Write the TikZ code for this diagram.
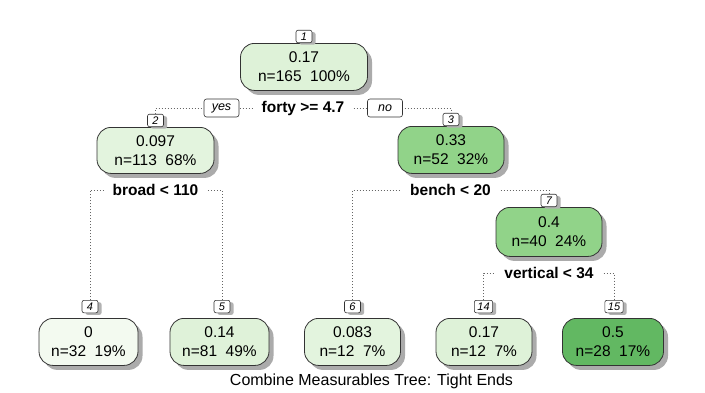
\documentclass[tikz,border=0pt]{standalone}
\usepackage{fontspec}
\setmainfont{Liberation Sans}
\usetikzlibrary{shadows}
\definecolor{cA}{HTML}{DEF2D8}
\definecolor{cB}{HTML}{E3F4DE}
\definecolor{cC}{HTML}{91D389}
\definecolor{cD}{HTML}{F3FAF0}
\definecolor{cE}{HTML}{DFF2D9}
\definecolor{cF}{HTML}{62B862}
\tikzset{
  treebox/.style={draw=black!80, line width=0.8pt, rounded corners=14pt,
    minimum height=47pt, align=center, inner sep=0pt, anchor=north,
    font=\fontsize{15.5}{19}\selectfont,
    drop shadow={shadow xshift=4.5pt, shadow yshift=-4.5pt, fill=black!33, opacity=1}},
  numbox/.style={draw=black!80, fill=white, line width=0.6pt, rounded corners=2pt,
    minimum width=16pt, minimum height=12.5pt, inner xsep=3pt, inner ysep=0pt,
    font=\fontsize{11}{12}\selectfont\itshape,
    drop shadow={shadow xshift=3.5pt, shadow yshift=-2pt, fill=black!30, opacity=1}},
  yesno/.style={draw=black!80, fill=white, line width=0.6pt, rounded corners=2.5pt,
    minimum width=35pt, minimum height=18pt, inner sep=0pt,
    font=\fontsize{12.5}{13}\selectfont\itshape},
  splitlab/.style={fill=white, inner xsep=9pt, inner ysep=1pt,
    font=\fontsize{15.5}{18}\selectfont\bfseries},
  conn/.style={draw=black!60, line width=0.8pt, dash pattern=on 0.8pt off 2.2pt},
}
\begin{document}
\begin{tikzpicture}[x=1pt,y=-1pt]
\useasboundingbox[fill=white] (0,0) rectangle (705,392);

% internal nodes
\node[treebox, fill=cA, minimum width=127pt, minimum height=47pt] (n1) at (304,43) {0.17\\n=165\ \ 100\%};
\node[numbox, anchor=south] (l1) at (304,43) {1};
\node[treebox, fill=cB, minimum width=117pt, minimum height=46pt] (n2) at (155.5,127) {0.097\\n=113\ \ 68\%};
\node[numbox, anchor=south] (l2) at (155.5,127) {2};
\node[treebox, fill=cC, minimum width=106pt, minimum height=47pt] (n3) at (451,126) {0.33\\n=52\ \ 32\%};
\node[numbox, anchor=south] (l3) at (451,126) {3};
\node[treebox, fill=cC, minimum width=106pt, minimum height=49pt] (n7) at (549,207) {0.4\\n=40\ \ 24\%};
\node[numbox, anchor=south] (l7) at (549,207) {7};

% leaves
\node[treebox, fill=cD, minimum width=99pt] (n4) at (88.5,318) {0\\n=32\ \ 19\%};
\node[numbox, anchor=north] (l4) at (90,300) {4};
\node[treebox, fill=cE, minimum width=99pt] (n5) at (219.5,318) {0.14\\n=81\ \ 49\%};
\node[numbox, anchor=north] (l5) at (222,300) {5};
\node[treebox, fill=cB, minimum width=96pt] (n6) at (352.5,318) {0.083\\n=12\ \ 7\%};
\node[numbox, anchor=north] (l6) at (352.5,300) {6};
\node[treebox, fill=cA, minimum width=96pt] (n14) at (484,318) {0.17\\n=12\ \ 7\%};
\node[numbox, anchor=north] (l14) at (483.5,300) {14};
\node[treebox, fill=cF, minimum width=101pt] (n15) at (613,318) {0.5\\n=28\ \ 17\%};
\node[numbox, anchor=north] (l15) at (614,300) {15};

% split 1
\coordinate (a1) at (155.5,108);
\coordinate (b1) at (451,108);
\draw[conn] (l2.north) -- (a1) -- (b1) -- (l3.north);
\node[yesno] (yes) at (221.5,108) {yes};
\node[yesno] (no) at (385,108) {no};
\node[splitlab] (s1) at (303,108) {forty >= 4.7};

% split 2
\coordinate (a2) at (90,190);
\coordinate (b2) at (222,190);
\draw[conn] (l4.north) -- (a2) -- (b2) -- (l5.north);
\node[splitlab] (s2) at (155.5,190) {broad < 110};

% split 3
\coordinate (a3) at (352.5,190);
\coordinate (b3) at (549,190);
\draw[conn] (l6.north) -- (a3) -- (b3) -- (l7.north);
\node[splitlab] (s3) at (450.5,190) {bench < 20};

% split 7
\coordinate (a7) at (483.5,273);
\coordinate (b7) at (614,273);
\draw[conn] (l14.north) -- (a7) -- (b7) -- (l15.north);
\node[splitlab] (s7) at (549,273) {vertical < 34};

\node[font=\fontsize{16}{18}\selectfont] (title) at (371.5,381) {Combine Measurables Tree: Tight Ends};
\end{tikzpicture}
\end{document}
